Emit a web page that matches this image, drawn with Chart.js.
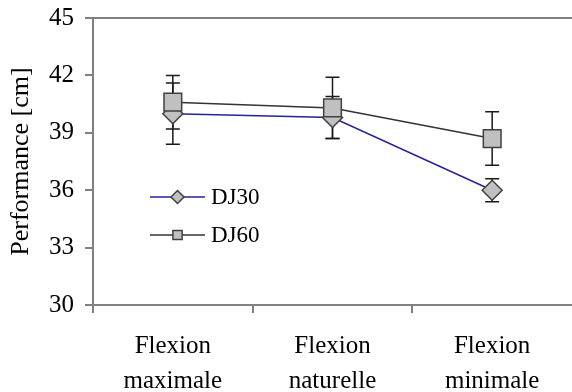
<!DOCTYPE html>
<html>
<head>
<meta charset="utf-8">
<script src="https://cdn.jsdelivr.net/npm/chart.js@4/dist/chart.umd.min.js"></script>
<style>
  html, body { margin: 0; padding: 0; background: #fff; overflow: hidden; }
  #wrap { width: 572px; height: 392px; }
</style>
</head>
<body>
<div id="wrap"><canvas id="perfChart" width="572" height="392"></canvas></div>
<script>
// ===== DATA =====
const categories = [["Flexion", "maximale"], ["Flexion", "naturelle"], ["Flexion", "minimale"]];
const dj30 = [40.0, 39.8, 36.0];
const dj30Err = [1.6, 1.1, 0.6];
const dj60 = [40.6, 40.3, 38.7];
const dj60Err = [1.4, 1.6, 1.4];
const yTicks = [30, 33, 36, 39, 42, 45];

const SERIF = "'Liberation Serif', 'Times New Roman', serif";
const AXIS_GREY = "#808080";

// Barres d'erreur (dessinées sous les marqueurs)
const errorBarPlugin = {
  id: "errorBars",
  beforeDatasetsDraw(chart) {
    const ctx = chart.ctx;
    const yScale = chart.scales.y;
    chart.data.datasets.forEach((ds, i) => {
      const meta = chart.getDatasetMeta(i);
      meta.data.forEach((pt, j) => {
        const v = ds.data[j];
        const e = ds.errors[j];
        const yTop = yScale.getPixelForValue(v + e);
        const yBot = yScale.getPixelForValue(v - e);
        ctx.save();
        ctx.strokeStyle = "#1a1a1a";
        ctx.lineWidth = 1.5;
        ctx.beginPath();
        ctx.moveTo(pt.x, yTop);
        ctx.lineTo(pt.x, yBot);
        ctx.moveTo(pt.x - 7, yTop);
        ctx.lineTo(pt.x + 7, yTop);
        ctx.moveTo(pt.x - 7, yBot);
        ctx.lineTo(pt.x + 7, yBot);
        ctx.stroke();
        ctx.restore();
      });
    });
  },
};

// Ligne du haut du cadre
const topBorderPlugin = {
  id: "topBorder",
  beforeDraw(chart) {
    const { ctx, chartArea } = chart;
    ctx.save();
    ctx.strokeStyle = AXIS_GREY;
    ctx.lineWidth = 2;
    ctx.beginPath();
    ctx.moveTo(chartArea.left, chartArea.top);
    ctx.lineTo(chartArea.right, chartArea.top);
    ctx.stroke();
    ctx.restore();
  },
};

// Légende à l'intérieur du graphique
const innerLegendPlugin = {
  id: "innerLegend",
  afterDraw(chart) {
    const ctx = chart.ctx;
    const x0 = 150, x1 = 205;
    const rows = [197, 235];
    chart.data.datasets.forEach((ds, i) => {
      const y = rows[i];
      ctx.save();
      ctx.strokeStyle = ds.borderColor;
      ctx.lineWidth = 1.5;
      ctx.beginPath();
      ctx.moveTo(x0, y);
      ctx.lineTo(x1, y);
      ctx.stroke();
      ctx.fillStyle = ds.pointBackgroundColor;
      ctx.strokeStyle = ds.pointBorderColor;
      ctx.lineWidth = 1.5;
      Chart.helpers.drawPoint(ctx, {
        pointStyle: ds.pointStyle,
        radius: 6.5,
        rotation: 0,
        borderWidth: 1.5,
      }, (x0 + x1) / 2, y);
      ctx.fillStyle = "#000";
      ctx.font = "23px " + SERIF;
      ctx.textBaseline = "middle";
      ctx.textAlign = "left";
      ctx.fillText(ds.label, 211, y + 1);
      ctx.restore();
    });
  },
};

function initChart() {
  const ctx = document.getElementById("perfChart").getContext("2d");
  new Chart(ctx, {
    type: "line",
    data: {
      labels: categories,
      datasets: [
        {
          label: "DJ30",
          data: dj30,
          errors: dj30Err,
          borderColor: "#23239a",
          borderWidth: 1.5,
          pointStyle: "rectRot",
          pointRadius: 10,
          pointBackgroundColor: "#c0c0c0",
          pointBorderColor: "#404040",
          pointBorderWidth: 1.5,
          tension: 0,
          order: 2,
        },
        {
          label: "DJ60",
          data: dj60,
          errors: dj60Err,
          borderColor: "#333333",
          borderWidth: 1.5,
          pointStyle: "rect",
          pointRadius: 12.5,
          pointBackgroundColor: "#c0c0c0",
          pointBorderColor: "#404040",
          pointBorderWidth: 1.5,
          tension: 0,
          order: 1,
        },
      ],
    },
    options: {
      responsive: false,
      animation: false,
      layout: { autoPadding: false, padding: { top: 18, right: 0, left: 0, bottom: 0 } },
      plugins: {
        legend: { display: false },
        tooltip: { enabled: false },
      },
      scales: {
        x: {
          offset: true,
          grid: {
            offset: true,
            drawOnChartArea: false,
            drawTicks: true,
            tickLength: 8,
            // pas de trait au bord droit (coupé dans l'original)
            color: (c) => (c.type === "tick" ? AXIS_GREY : "transparent"),
            lineWidth: 2,
          },
          border: { color: AXIS_GREY, width: 2 },
          ticks: {
            color: "#000",
            font: { family: SERIF, size: 25, lineHeight: 1.4 },
            padding: 16,
            maxRotation: 0,
          },
          afterFit(scale) {
            scale.height = 87;
            scale.paddingLeft = 0;
            scale.paddingRight = 0;
          },
        },
        y: {
          min: 30,
          max: 45,
          afterBuildTicks(scale) {
            scale.ticks = yTicks.map((v) => ({ value: v }));
          },
          grid: {
            drawOnChartArea: false,
            drawTicks: true,
            tickLength: 8,
            color: AXIS_GREY,
            lineWidth: 2,
          },
          border: { color: AXIS_GREY, width: 2 },
          ticks: {
            color: "#000",
            font: { family: SERIF, size: 25 },
            padding: 11,
          },
          title: {
            display: true,
            text: "Performance [cm]",
            color: "#000",
            font: { family: SERIF, size: 26 },
            padding: { top: 6, bottom: 2 },
          },
          afterFit(scale) {
            scale.width = 93;
            scale.paddingTop = 0;
            scale.paddingBottom = 0;
          },
        },
      },
    },
    plugins: [topBorderPlugin, errorBarPlugin, innerLegendPlugin],
  });
}

document.addEventListener("DOMContentLoaded", function () {
  if (typeof Chart !== "undefined") {
    initChart();
  }
});
</script>
</body>
</html>
